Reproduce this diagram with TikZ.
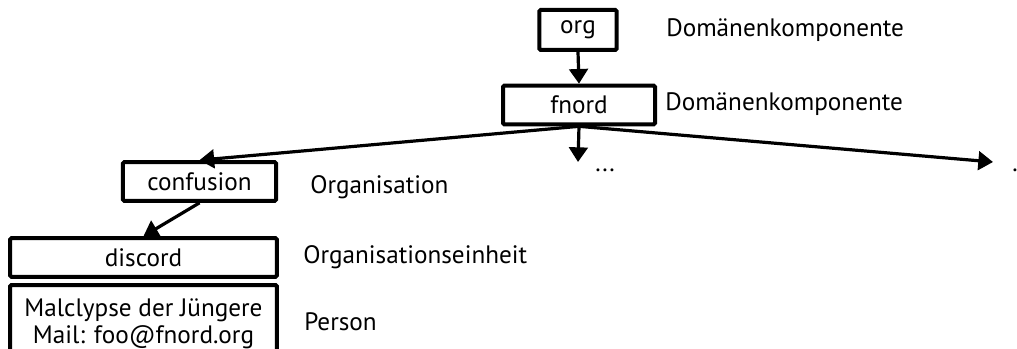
\documentclass[tikz,border=0pt]{standalone}
\usepackage{fontspec}
\setmainfont{PT Sans}
\usetikzlibrary{arrows.meta}
\tikzset{
  box/.style={draw, line width=3pt, rounded corners=1pt, inner sep=0pt, align=center},
  lbl/.style={anchor=west, inner sep=0pt},
  arr/.style={line width=2.4pt, -{Triangle[length=11pt,width=14pt]}},
}
\begin{document}
\begin{tikzpicture}[x=0.75pt, y=-0.75pt, font=\fontsize{18.9}{21}\selectfont]
\useasboundingbox (0,0) rectangle (1017,349);
\clip (0,0) rectangle (1017,349);

% tree of directory entries
\node[box, minimum width=58pt, minimum height=30pt] (org) at (578,30) {org};
\node[box, minimum width=114pt, minimum height=29pt] (fnord) at (579,105) {fnord};
\node[box, minimum width=115pt, minimum height=29pt] (confusion) at (199.5,181.5) {confusion};
\node[box, minimum width=200pt, minimum height=29pt] (discord) at (143.5,257.5) {discord};
\node[box, minimum width=200pt, minimum height=58pt, anchor=north] (person) at (143.5,283) {Malclypse der Jüngere\\[-1pt]Mail: foo@fnord.org};

% ends of the open branches
\node[inner sep=0pt] (dots) at (605,170) {...};
\node[inner sep=0pt] (dot) at (1015,170) {.};
\coordinate (midtip) at (578,162);
\coordinate (righttip) at (993,162);

% type labels
\node[lbl] (l1) at (666,30) {Domänenkomponente};
\node[lbl] (l2) at (665,104) {Domänenkomponente};
\node[lbl] (l3) at (310,187) {Organisation};
\node[lbl] (l4) at (303,257) {Organisationseinheit};
\node[lbl] (l5) at (304,322) {Person};

% connectors
\draw[arr] (org.south) -- (fnord.north);
\draw[arr] (fnord.south) -- (confusion.north);
\draw[arr] (fnord.south) -- (midtip);
\draw[arr] (fnord.south) -- (righttip);
\draw[arr] (confusion.south) -- (discord.north);
\end{tikzpicture}
\end{document}
